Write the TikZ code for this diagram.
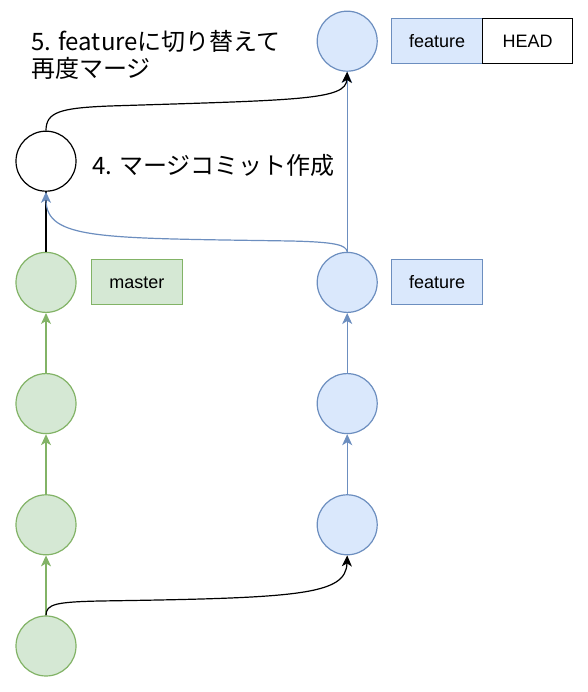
\documentclass[tikz,border=0pt]{standalone}
\usepackage{fontspec}
\setmainfont{Liberation Sans}
\newfontfamily\jpfont{Noto Sans CJK JP}
\usetikzlibrary{positioning,arrows.meta}
\definecolor{greenfill}{HTML}{D5E8D4}
\definecolor{greenline}{HTML}{82B366}
\definecolor{bluefill}{HTML}{DAE8FC}
\definecolor{blueline}{HTML}{6C8EBF}
\begin{document}
\begin{tikzpicture}[x=1pt,y=1pt]

			\tikzstyle{mastercommit}=[circle,fill=greenfill,draw=greenline,
				line width=1.2pt,minimum size=60pt,inner sep=0pt]
			\tikzstyle{featurecommit}=[circle,fill=bluefill,draw=blueline,
				line width=1.2pt,minimum size=60pt,inner sep=0pt]
			\tikzstyle{mergecommit}=[circle,fill=white,draw=black,
				line width=1.2pt,minimum size=60pt,inner sep=0pt]
			\tikzstyle{branch}=[draw,line width=1pt,outer sep=0pt,
				minimum width=90.5pt,minimum height=45pt,
				font=\fontsize{18}{20}\selectfont]
			\tikzstyle{tip}=[-{Stealth[length=11pt,width=10pt,inset=3pt]}]
			\tikzstyle{note}=[inner sep=0pt,align=left,
				font=\jpfont\fontsize{24}{27}\selectfont]

			\useasboundingbox (0,0) rectangle (587,692);

			\node[mastercommit]		(c0)	at (46,46) {};
			\node[mastercommit,above=60pt of c0]	(c1)	{};
			\node[mastercommit,above=60pt of c1]	(c2)	{};
			\node[mastercommit,above=60pt of c2]	(c3)	{};
			\node[mergecommit,above=60pt of c3]	(merge)	{};
			\node[featurecommit,right=240pt of c1]	(f1)	{};
			\node[featurecommit,above=60pt of f1]	(f2)	{};
			\node[featurecommit,above=60pt of f2]	(f3)	{};
			\node[featurecommit,above=180pt of f3]	(f4)	{};

			\node[branch,fill=greenfill,draw=greenline,right=15pt of c3]	(master)	{master};
			\node[branch,fill=bluefill,draw=blueline,right=14pt of f3]	(feature)	{feature};
			\node[branch,fill=bluefill,draw=blueline,right=14pt of f4]	(topfeature)	{feature};
			\node[branch,fill=white,draw=black,right=0pt of topfeature]	(head)	{HEAD};

			\node[note,anchor=west]	(step5)	at (31,637)	{5. featureに切り替えて\\再度マージ};
			\node[note,anchor=west]	(step4)	at (92,527)	{4. マージコミット作成};

			% history of both branches
			\draw[greenline,line width=1.2pt,tip]	(c0)  -- (c1);
			\draw[greenline,line width=1.2pt,tip]	(c1)  -- (c2);
			\draw[greenline,line width=1.2pt,tip]	(c2)  -- (c3);
			\draw[blueline,line width=1.2pt,tip]	(f1)  -- (f2);
			\draw[blueline,line width=1.2pt,tip]	(f2)  -- (f3);
			\draw[blueline,line width=1.2pt,tip]	(f3)  -- (f4);
			\draw[black,line width=1.2pt]	(c3)  -- (merge);

			% merges
			\draw[blueline,line width=1.2pt,tip]
				(f3.north) .. controls (346,447) and (336,450) .. (290,451)
				.. controls (100,454) and (46,452) .. (merge.south);
			\draw[black,line width=1.2pt,tip]
				(c0.north) .. controls (46,88) and (56,90) .. (100,91)
				.. controls (300,94) and (346,97) .. (f1.south);
			\draw[black,line width=1.2pt,tip]
				(merge.north) .. controls (46,580) and (60,584) .. (110,586)
				.. controls (300,592) and (346,592) .. (f4.south);

			\end{tikzpicture}
\end{document}
